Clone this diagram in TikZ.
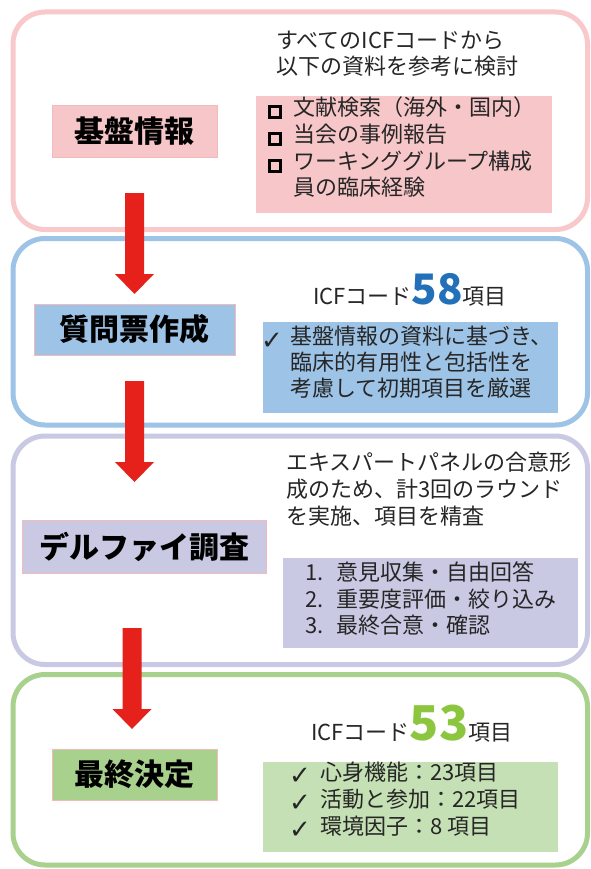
\documentclass[tikz,border=0pt]{standalone}
\usepackage{fontspec}
\setmainfont{Noto Sans CJK JP}
\newfontfamily\dejavu{DejaVu Sans}
\usetikzlibrary{calc}
\definecolor{pinkB}{HTML}{F8C8CA}
\definecolor{pinkF}{HTML}{F7C6C8}
\definecolor{blueB}{HTML}{9DC3E6}
\definecolor{lavB}{HTML}{C9C9E4}
\definecolor{greenB}{HTML}{A9D18E}
\definecolor{greenL}{HTML}{C5E0B4}
\definecolor{arrowred}{HTML}{E6211B}
\definecolor{numblue}{HTML}{2170B8}
\definecolor{numgreen}{HTML}{8CC63F}
\definecolor{txt}{HTML}{262626}
\definecolor{lblborder}{HTML}{F4B9BB}
\newcommand\blockarr[2]{%
  \fill[arrowred] ($(#1)+(-9.5,0)$) -- ($(#1)+(9.5,0)$) -- ($(#2)+(9.5,-20)$) -- ($(#2)+(19.5,-20)$)
   -- (#2) -- ($(#2)+(-19.5,-20)$) -- ($(#2)+(-9.5,-20)$) -- cycle;}
\begin{document}
\begin{tikzpicture}[x=1pt,y=-1pt,
  stage/.style={draw, line width=5pt, rounded corners=32pt, inner sep=0pt, fill=white},
  lbl/.style={draw=lblborder, line width=0.8pt, inner sep=0pt, font=\fontsize{30}{30}\selectfont\bfseries, text=black},
  listbox/.style={inner sep=0pt},
  line/.style={anchor=west, inner sep=0pt, text height=0.88em, text depth=0.12em, font=\fontsize{22}{26}\selectfont, text=txt},
  chk/.style={inner sep=0pt, font=\dejavu\fontsize{26}{26}\selectfont, text=txt},
  sq/.style={draw=black, line width=3pt, minimum size=11pt, inner sep=0pt},
  icf/.style={anchor=base west, inner sep=0pt, font=\fontsize{22}{26}\selectfont, text=txt}]
\useasboundingbox (0,0) rectangle (590,869);
\fill[white] (0,0) rectangle (590,869);
% stage frames
\node[stage, draw=pinkB, minimum width=574.5pt, minimum height=217.5pt] (s1) at (300.25,120.75) {};
\node[stage, draw=blueB, minimum width=574.5pt, minimum height=186.5pt] (s2) at (300.25,331.75) {};
\node[stage, draw=lavB, minimum width=574.5pt, minimum height=228.5pt] (s3) at (300.25,550.25) {};
\node[stage, draw=greenB, minimum width=574.5pt, minimum height=190.5pt] (s4) at (300.25,769.75) {};
% stage labels
\node[lbl, fill=pinkF, minimum width=165pt, minimum height=52pt] (l1) at (134.5,131) {基盤情報};
\node[lbl, fill=blueB, minimum width=201pt, minimum height=51pt] (l2) at (134.5,329.5) {質問票作成};
\node[lbl, fill=lavB, minimum width=244pt, minimum height=53pt] (l3) at (144,546.5) {デルファイ調査};
\node[lbl, fill=greenB, minimum width=165pt, minimum height=51pt] (l4) at (134.5,774.5) {最終決定};
% list boxes
\node[listbox, fill=pinkF, minimum width=296pt, minimum height=117pt] (b1) at (404,154.5) {};
\node[listbox, fill=blueB, minimum width=295pt, minimum height=91pt] (b2) at (410.5,367.5) {};
\node[listbox, fill=lavB, minimum width=295pt, minimum height=90pt] (b3) at (430.5,603) {};
\node[listbox, fill=greenL, minimum width=295pt, minimum height=90pt] (b4) at (410.5,807) {};
% stage 1 texts
\node[line] (t1a) at (276,45) {すべてのICFコードから};
\node[line] (t1b) at (276,71) {以下の資料を参考に検討};
\node[sq] (q1) at (275,112) {};
\node[sq] (q2) at (275,139) {};
\node[sq] (q3) at (275,166) {};
\node[line] (i1a) at (293,112) {文献検索（海外・国内）};
\node[line] (i1b) at (293,139) {当会の事例報告};
\node[line] (i1c) at (293,166) {ワーキンググループ構成};
\node[line] (i1d) at (293,192) {員の臨床経験};
% stage 2 texts
\node[icf] (c2) at (313,304) {ICFコード{\fontsize{42}{42}\selectfont\bfseries\color{numblue}58}項目};
\node[chk] (k2) at (272,341) {✓};
\node[line] (i2a) at (290,341) {基盤情報の資料に基づき、};
\node[line] (i2b) at (290,367) {臨床的有用性と包括性を};
\node[line] (i2c) at (290,393) {考慮して初期項目を厳選};
% stage 3 texts
\node[line] (t3a) at (286,467) {エキスパートパネルの合意形};
\node[line] (t3b) at (286,494) {成のため、計3回のラウンド};
\node[line] (t3c) at (286,521) {を実施、項目を精査};
\node[line] (n3a) at (305,577) {1.};
\node[line] (n3b) at (305,604) {2.};
\node[line] (n3c) at (305,630) {3.};
\node[line] (i3a) at (336,577) {意見収集・自由回答};
\node[line] (i3b) at (336,604) {重要度評価・絞り込み};
\node[line] (i3c) at (336,630) {最終合意・確認};
% stage 4 texts
\node[icf] (c4) at (311,740) {ICFコード{\fontsize{48}{48}\selectfont\bfseries\color{numgreen}53}項目};
\node[chk] (k4a) at (300,776) {✓};
\node[chk] (k4b) at (300,803) {✓};
\node[chk] (k4c) at (300,830) {✓};
\node[line] (i4a) at (320,777) {心身機能：23項目};
\node[line] (i4b) at (320,804) {活動と参加：22項目};
\node[line] (i4c) at (320,831) {環境因子：8 項目};
% arrows
\coordinate (a1s) at (134.5,193);
\coordinate (a1e) at (134.5,294);
\coordinate (a2s) at (134.5,381);
\coordinate (a2e) at (134.5,482);
\coordinate (a3s) at (132,628);
\coordinate (a3e) at (132,729);
\blockarr{a1s}{a1e}
\blockarr{a2s}{a2e}
\blockarr{a3s}{a3e}
\end{tikzpicture}
\end{document}
